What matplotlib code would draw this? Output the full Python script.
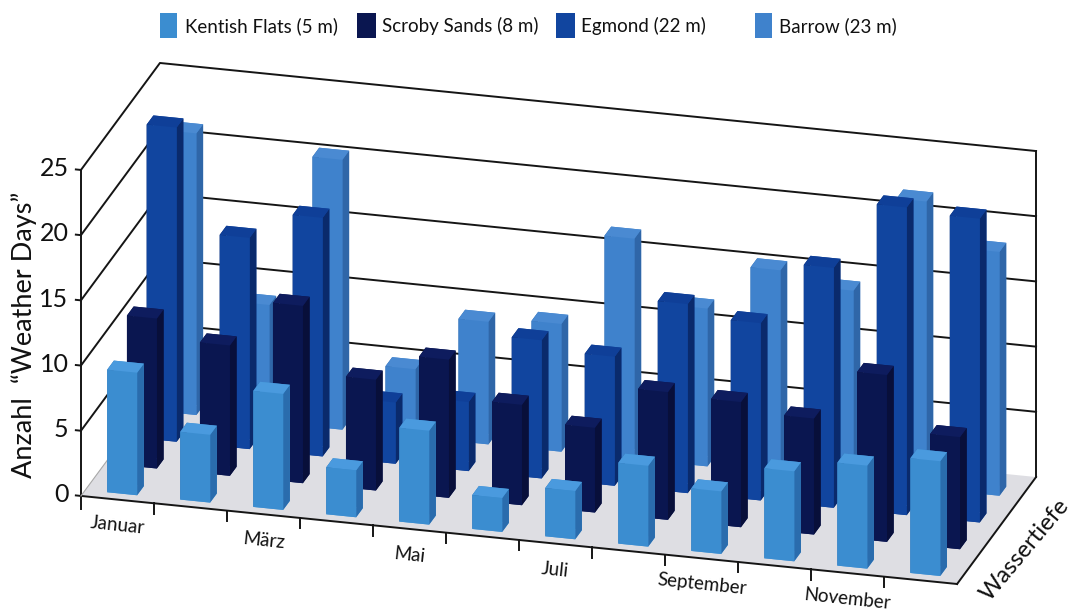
#!/usr/bin/env python3
"""Weather days per month at four offshore sites, as a 3D bar chart."""

import matplotlib
matplotlib.use("Agg")
import matplotlib.pyplot as plt
from matplotlib.patches import Rectangle
from mpl_toolkits.mplot3d import proj3d
from mpl_toolkits.mplot3d.art3d import Poly3DCollection


WIDTH, HEIGHT = 1075, 612

MONTH_LABELS = ["Januar", "März", "Mai", "Juli", "September", "November"]
Z_TICKS = [0, 5, 10, 15, 20, 25]

SITES = ["Kentish Flats (5 m)", "Scroby Sands (8 m)", "Egmond (22 m)", "Barrow (23 m)"]

kentish = [9.4, 5.2, 8.9, 3.6, 7.2, 2.6, 3.7, 6.2, 4.8, 6.9, 7.9, 8.8]
scroby = [11.5, 10.0, 13.6, 8.5, 10.6, 7.7, 6.5, 9.8, 9.6, 8.9, 12.8, 8.6]
egmond = [24.1, 16.2, 18.3, 4.7, 5.3, 10.6, 9.9, 14.5, 13.6, 18.4, 23.6, 23.3]
barrow = [21.6, 9.0, 20.7, 5.2, 9.4, 9.8, 16.9, 12.1, 15.6, 14.6, 22.0, 18.7]

# front, side, top
COLORS = [
    ("#3b8dd0", "#2a6cad", "#4a9ade"),
    ("#0a1650", "#080f3a", "#0e1c5e"),
    ("#11459f", "#0a2a6c", "#0f3f98"),
    ("#3f82cc", "#2f66a8", "#4a8ad2"),
]
ROW_START = [0.055, 0.305, 0.555, 0.805]
BAR_X = 0.30
BAR_W = 0.41
BAR_D = 0.085

FONT = ["Lato", "DejaVu Sans"]


def px_text(fig, x, y, s, **kw):
    fig.text(x / WIDTH, 1 - y / HEIGHT, s, family=FONT, color="#111111", **kw)


def box_text(fig, ax, x, y, z, s, **kw):
    # label at a point of the 3D box, placed on the figure
    x2, y2, _ = proj3d.proj_transform(x, y, z, ax.get_proj())
    px, py = ax.transData.transform((x2, y2))
    fig.text(px / WIDTH, py / HEIGHT, s, family=FONT, color="#111111", **kw)


def draw_frame(ax):
    floor = [[(0, 0, 0), (12, 0, 0), (12, 1, 0), (0, 1, 0)]]
    ax.add_collection3d(Poly3DCollection(floor, facecolor="#dedee3", edgecolor="none", zorder=1))

    line = {"color": "#151515", "linewidth": 1.4, "zorder": 2}
    for z in Z_TICKS[1:]:
        ax.plot([0, 0, 12], [0, 1, 1], [z, z, z], **line)
        ax.plot([-0.07, 0], [0, 0], [z, z], **line)
    ax.plot([-0.07, 0], [0, 0], [0, 0], **line)
    ax.plot([0, 0], [0, 0], [-1.0, 25], **line)
    ax.plot([12, 12], [1, 1], [0, 25], **line)
    ax.plot([0, 12], [0, 0], [0, 0], **line)
    ax.plot([12, 12], [0, 1], [0, 0], **line)
    ax.plot([0, 0], [0, 1], [0, 0], color="#a8a8a8", linewidth=0.8, zorder=2)
    for m in range(1, 12):
        ax.plot([m, m], [0, 0], [-0.8, 0], **line)


def draw_bars(ax, series):
    # back row first so the front rows paint over it
    for row in reversed(range(len(series))):
        front, side, top = COLORS[row]
        for month, value in enumerate(series[row]):
            faces = [top, top, front, front, side, side]
            ax.bar3d(month + BAR_X, ROW_START[row], 0, BAR_W, BAR_D, value,
                     color=faces, shade=False, zorder=10 + (3 - row))


def draw_text(fig, ax):
    for i, label in enumerate(MONTH_LABELS):
        box_text(fig, ax, 2 * i + 0.5, 0, -2, label, rotation=-6, ha="center", va="center",
                 rotation_mode="anchor", fontsize=13.5)
    for z in Z_TICKS:
        box_text(fig, ax, -0.17, 0, z, str(z), ha="right", va="center", fontsize=18)

    px_text(fig, 24, 335, "Anzahl  \u201cWeather Days\u201d", rotation=90, fontsize=19.5,
            ha="center", va="center")
    px_text(fig, 1025, 550, "Wassertiefe", rotation=50, fontsize=17, ha="center", va="center",
            rotation_mode="anchor")

    swatches = [160, 357, 556, 755]
    swatch_w = [17, 19, 19, 17]
    starts = [185, 382, 581, 779]
    for i, site in enumerate(SITES):
        fig.add_artist(Rectangle((swatches[i] / WIDTH, 1 - 38 / HEIGHT), swatch_w[i] / WIDTH, 25 / HEIGHT,
                                 transform=fig.transFigure, facecolor=COLORS[i][0], edgecolor="none"))
        px_text(fig, starts[i], 26, site, fontsize=13.5, ha="left", va="center")


def main():
    fig = plt.figure(figsize=(WIDTH / 100, HEIGHT / 100), dpi=100, facecolor="white")
    # square axes, much larger than the figure, placed so the box lands where it should
    ax = fig.add_axes([45 / WIDTH, -225 / HEIGHT, 1000 / WIDTH, 1000 / HEIGHT],
                      projection="3d", computed_zorder=False)
    ax.set_proj_type("ortho")
    ax.view_init(elev=21.65, azim=-74.76)

    draw_frame(ax)
    draw_bars(ax, [kentish, scroby, egmond, barrow])

    ax.set_xticks([])
    ax.set_yticks([])
    ax.set_zticks([])
    ax.set_xlim(0, 12, view_margin=0)
    ax.set_ylim(0, 1, view_margin=0)
    ax.set_zlim(0, 25, view_margin=0)
    ax.set_box_aspect((908, 300.5, 350.7), zoom=0.989)
    ax.set_axis_off()
    ax.apply_aspect()

    draw_text(fig, ax)

    fig.savefig("out.png", dpi=100)
    plt.close(fig)


if __name__ == "__main__":
    main()
